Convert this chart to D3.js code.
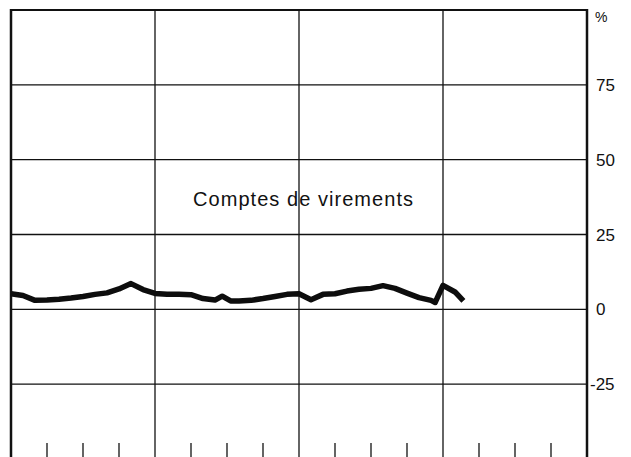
<!DOCTYPE html>
<html><head><meta charset="utf-8">
<script src="https://cdn.jsdelivr.net/npm/d3@7"></script>
<style>html,body{margin:0;padding:0;background:#fff;}svg{display:block;}</style>
</head><body>
<script>
// Data: month index (from start of period) and percentage values
const months = [0,1,2,3,4,5,6,7,8,9,10,11,12,13,14,15,16,17,17.6,18.3,19,20,21,22,23,24,25,26,27,28,29,30,31,32,33,34,35,35.35,36,37,37.7];
const values = [5.2,4.6,3.0,3.1,3.4,3.8,4.3,5.0,5.5,6.8,8.6,6.6,5.3,5.0,5.0,4.9,3.6,3.1,4.4,2.8,2.8,3.0,3.6,4.3,5.0,5.2,3.2,5.0,5.2,6.1,6.7,7.0,7.9,7.0,5.4,3.9,3.0,2.3,8.0,5.8,2.8];
const yTicks = [75,50,25,0,-25];
const yLabels = ["75","50","25","0","-25"];
const vGrid = [12,24,36];
const quarterTicks = [3,6,9,15,18,21,27,30,33,39,42,45];
const seriesLabel = "Comptes de virements";

const W = 631, H = 457;
const svg = d3.select("body").append("svg").attr("width", W).attr("height", H);
const x = d3.scaleLinear().domain([0,48]).range([11,587]);
const y = d3.scaleLinear().domain([-50,100]).range([459,10]);
const font = "Liberation Sans, Arial, sans-serif";

// horizontal grid
svg.selectAll(".hg").data(yTicks).enter().append("line")
  .attr("x1", x(0)).attr("x2", x(48)).attr("y1", d=>y(d)).attr("y2", d=>y(d))
  .attr("stroke", "#111").attr("stroke-width", 1.3);
// vertical grid
svg.selectAll(".vg").data(vGrid).enter().append("line")
  .attr("x1", d=>x(d)).attr("x2", d=>x(d)).attr("y1", y(100)).attr("y2", H)
  .attr("stroke", "#111").attr("stroke-width", 1.3);
// bottom quarter ticks
svg.selectAll(".qt").data(quarterTicks).enter().append("line")
  .attr("x1", d=>x(d)).attr("x2", d=>x(d)).attr("y1", y(-50)-16).attr("y2", H)
  .attr("stroke", "#111").attr("stroke-width", 1.3);
// top border
svg.append("line").attr("x1", x(0)-1).attr("x2", x(48)+1).attr("y1", y(100)).attr("y2", y(100))
  .attr("stroke", "#111").attr("stroke-width", 2);
// left border
svg.append("line").attr("x1", x(0)).attr("x2", x(0)).attr("y1", y(100)-1).attr("y2", H)
  .attr("stroke", "#111").attr("stroke-width", 2.5);
// right axis
svg.append("line").attr("x1", x(48)).attr("x2", x(48)).attr("y1", y(100)-1).attr("y2", H)
  .attr("stroke", "#111").attr("stroke-width", 2.5);

// right axis labels
svg.selectAll(".yl").data(yTicks).enter().append("text")
  .attr("x", (d,i)=> yLabels[i].startsWith("-") ? x(48)+3 : x(48)+9)
  .attr("y", d=>y(d)+6)
  .attr("font-family", font)
  .attr("font-size", 17).attr("fill", "#111")
  .text((d,i)=>yLabels[i]);
svg.append("text").attr("x", x(48)+8).attr("y", y(100)+12)
  .attr("font-family", font)
  .attr("font-size", 14).attr("fill", "#111").text("%");

// series line
const pts = months.map((m,i)=>[m, values[i]]);
svg.append("path").datum(pts)
  .attr("fill", "none").attr("stroke", "#0d0d0d").attr("stroke-width", 5.5)
  .attr("stroke-linejoin", "round").attr("stroke-linecap", "butt")
  .attr("d", d3.line().x(d=>x(d[0])).y(d=>y(d[1])));

// series label
svg.append("text").attr("x", 193).attr("y", 206)
  .attr("font-family", font)
  .attr("font-size", 20).attr("fill", "#111")
  .attr("textLength", 220).attr("lengthAdjust", "spacing")
  .text(seriesLabel);
</script>
</body></html>
